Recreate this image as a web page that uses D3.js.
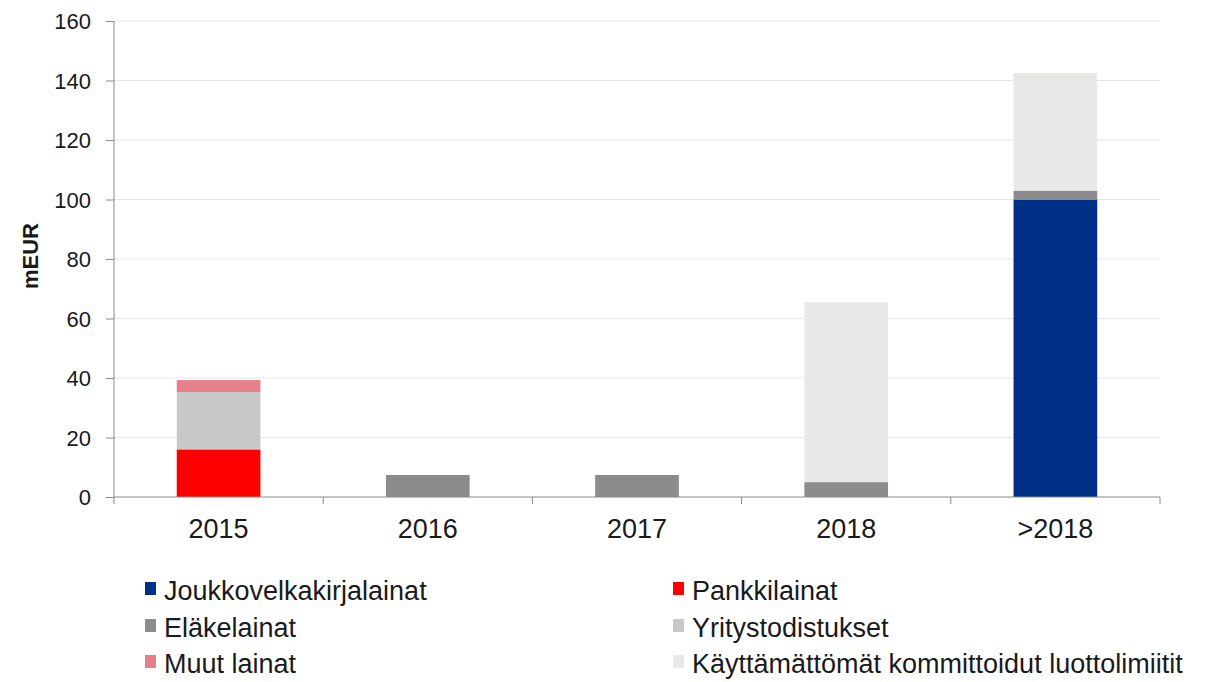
<!DOCTYPE html>
<html>
<head>
<meta charset="utf-8">
<script src="https://cdn.jsdelivr.net/npm/d3@7"></script>
<style>
  body { margin: 0; background: #fff; }
  text { font-family: "Liberation Sans", Arial, sans-serif; fill: #1a1a1a; }
</style>
</head>
<body>
<svg id="chart" width="1207" height="682"></svg>
<script>
const categories = ["2015", "2016", "2017", "2018", ">2018"];
const seriesNames = ["Joukkovelkakirjalainat", "Pankkilainat", "Eläkelainat",
  "Yritystodistukset", "Muut lainat", "Käyttämättömät kommittoidut luottolimiitit"];
const seriesColors = ["#002f87", "#ff0000", "#8c8c8c", "#c8c8c8", "#e5808a", "#e8e8e6"];
// values per series, in category order
const joukko = [0, 0, 0, 0, 100];
const pankki = [16, 0, 0, 0, 0];
const elake = [0, 7.4, 7.4, 5, 3];
const yritys = [19.3, 0, 0, 0, 0];
const muut = [4, 0, 0, 0, 0];
const kayttamattomat = [0, 0, 0, 60.5, 39.5];
const yTicks = [0, 20, 40, 60, 80, 100, 120, 140, 160];

const seriesValues = [joukko, pankki, elake, yritys, muut, kayttamattomat];
const rows = categories.map((c, i) => {
  let r = {cat: c};
  seriesNames.forEach((n, j) => r[n] = seriesValues[j][i]);
  return r;
});
const stacked = d3.stack().keys(seriesNames)(rows);

const svg = d3.select("#chart");
const m = {left: 114, right: 1160, top: 21, bottom: 497};

const x = d3.scaleBand().domain(categories).range([m.left, m.right]).paddingInner(0.6).paddingOuter(0.3);
const y = d3.scaleLinear().domain([0, 160]).range([m.bottom, m.top]);

// gridlines
svg.append("g").selectAll("line").data(yTicks.slice(1)).join("line")
  .attr("x1", m.left).attr("x2", m.right)
  .attr("y1", d => y(d)).attr("y2", d => y(d))
  .attr("stroke", "#e6e6e6").attr("stroke-width", 1);

// bars
svg.append("g").selectAll("g").data(stacked).join("g")
  .attr("fill", (d, i) => seriesColors[i])
  .selectAll("rect").data(d => d).join("rect")
  .attr("x", d => x(d.data.cat))
  .attr("width", x.bandwidth())
  .attr("y", d => y(d[1]))
  .attr("height", d => y(d[0]) - y(d[1]));

// y axis
const yAxis = svg.append("g").attr("transform", `translate(${m.left},0)`)
  .call(d3.axisLeft(y).tickValues(yTicks).tickSize(8).tickPadding(15));
yAxis.select(".domain").attr("stroke", "#8a8a8a").attr("d", `M0,${m.top}V${m.bottom}`);
yAxis.selectAll(".tick line").attr("stroke", "#8a8a8a");
yAxis.selectAll("text").style("font-size", "22px").attr("fill", "#1a1a1a")
  .attr("dy", "0.35em");

// x axis
const xAxis = svg.append("g").attr("transform", `translate(0,${m.bottom})`);
xAxis.append("line").attr("x1", m.left).attr("x2", m.right)
  .attr("stroke", "#8a8a8a");
const bounds = d3.range(categories.length + 1).map(i => m.left + (m.right - m.left) * i / categories.length);
xAxis.selectAll(".bt").data(bounds).join("line").attr("class", "bt")
  .attr("x1", d => d).attr("x2", d => d).attr("y1", 0).attr("y2", 7)
  .attr("stroke", "#8a8a8a");
xAxis.selectAll(".lab").data(categories).join("text").attr("class", "lab")
  .attr("x", d => x(d) + x.bandwidth() / 2).attr("y", 41)
  .attr("text-anchor", "middle").style("font-size", "27px").text(d => d);

// y axis title
svg.append("text").attr("transform", "translate(38,256) rotate(-90)")
  .attr("text-anchor", "middle").style("font-size", "22px").style("font-weight", "bold")
  .text("mEUR");

// legend
const legendPos = [[145, 600], [673, 600], [145, 637], [673, 637], [145, 673], [673, 673]];
const lg = svg.append("g").selectAll("g").data(seriesNames).join("g")
  .attr("transform", (d, i) => `translate(${legendPos[i][0]},${legendPos[i][1]})`);
lg.append("rect").attr("x", 0).attr("y", -18).attr("width", 11).attr("height", 13)
  .attr("fill", (d, i) => seriesColors[i]);
lg.append("text").attr("x", 19).attr("y", 0).style("font-size", "27px").text(d => d);
</script>
</body>
</html>
